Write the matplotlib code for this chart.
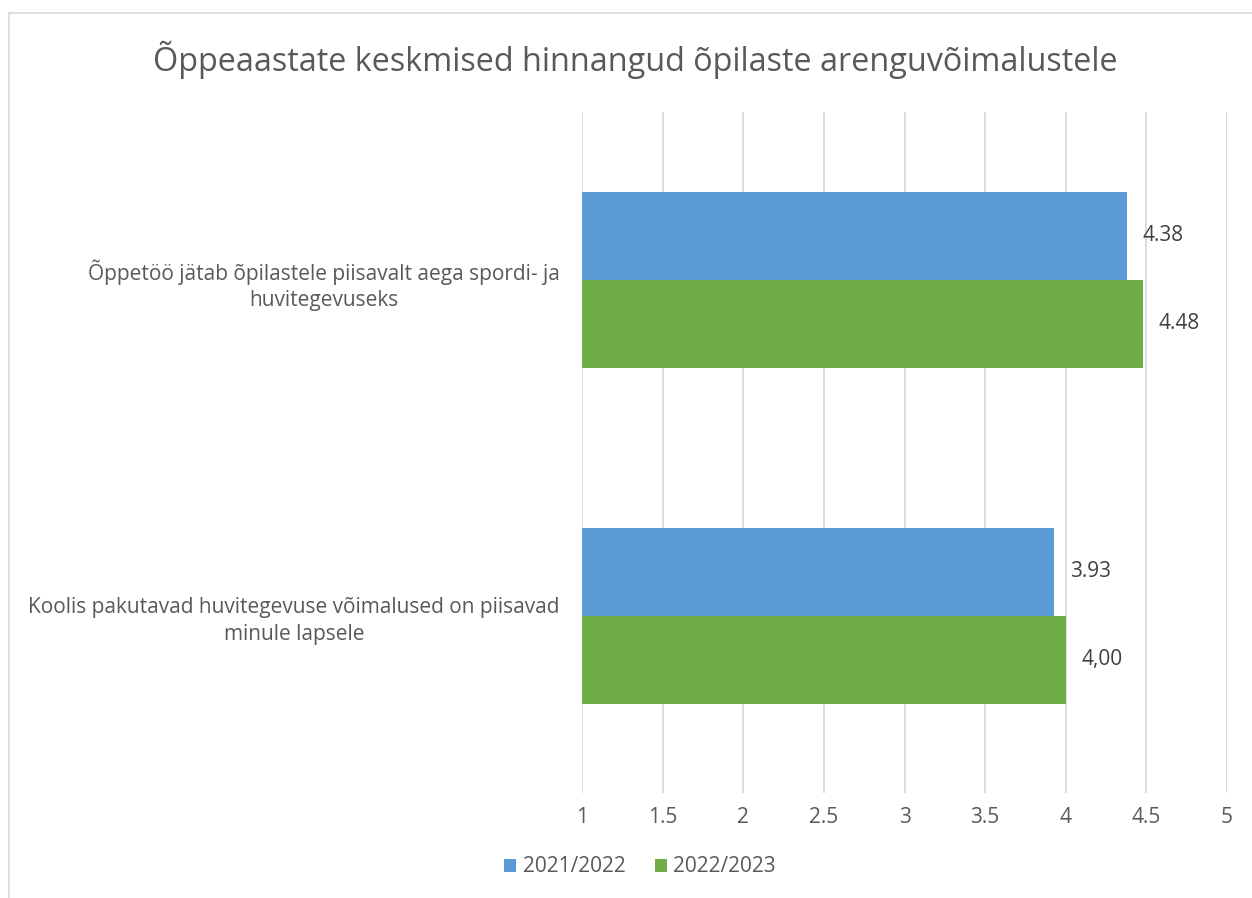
import matplotlib
matplotlib.use("Agg")
import matplotlib.pyplot as plt
from matplotlib.lines import Line2D
from matplotlib.patches import Patch

categories = ["Õppetöö jätab õpilastele piisavalt aega spordi- ja\nhuvitegevuseks",
              "Koolis pakutavad huvitegevuse võimalused on piisavad\nminule lapsele"]
series_names = ["2021/2022", "2022/2023"]
values_2122 = [4.38, 3.93]
values_2223 = [4.48, 4.00]
labels_2122 = ["4.38", "3.93"]
labels_2223 = ["4.48", "4,00"]
xticks = [1, 1.5, 2, 2.5, 3, 3.5, 4, 4.5, 5]
xticklabels = ["1", "1.5", "2", "2.5", "3", "3.5", "4", "4.5", "5"]
title = "Õppeaastate keskmised hinnangud õpilaste arenguvõimalustele"

blue = "#5B9BD5"
green = "#70AD47"
txt = "#595959"
grid = "#D9D9D9"

plt.rcParams['font.family'] = ['Open Sans', 'DejaVu Sans']

W, H = 1252, 898
fig = plt.figure(figsize=(W / 100, H / 100), dpi=100)
ax = fig.add_axes([582 / W, 1 - 793 / H, (1227 - 582) / W, (793 - 112) / H])

fs = 15
bh = 0.262
ypos = list(range(len(categories)))
y1 = [y - bh / 2 for y in ypos]
y2 = [y + bh / 2 for y in ypos]
base = 1
ax.barh(y1, [v - base for v in values_2122], left=base, height=bh, color=blue, zorder=3)
ax.barh(y2, [v - base for v in values_2223], left=base, height=bh, color=green, zorder=3)

for y, v, l in zip(y1, values_2122, labels_2122):
    ax.annotate(l, (v, y), xytext=(11, 0), textcoords="offset points", va="center",
                ha="left", fontsize=fs, color="#404040")
for y, v, l in zip(y2, values_2223, labels_2223):
    ax.annotate(l, (v, y), xytext=(11, 0), textcoords="offset points", va="center",
                ha="left", fontsize=fs, color="#404040")

ax.set_xlim(1, 5)
ax.set_ylim(1.527, -0.5)
ax.set_xticks(xticks)
ax.set_xticklabels(xticklabels)
ax.set_yticks(ypos)
ax.set_yticklabels(categories)
for t in ax.get_yticklabels():
    t.set_multialignment("center")
    t.set_linespacing(1.35)
ax.tick_params(axis="x", length=0, pad=10, labelsize=fs, labelcolor=txt)
ax.tick_params(axis="y", length=0, pad=16, labelsize=fs, labelcolor=txt)
ax.grid(axis="x", color=grid, linewidth=1.3, zorder=0)
for s in ax.spines.values():
    s.set_visible(False)

fig.text(635 / W, 1 - 60 / H, title, ha="center", va="center", fontsize=23.3, color=txt)

handles = [Patch(facecolor=blue, label=series_names[0]),
           Patch(facecolor=green, label=series_names[1])]
leg = fig.legend(handles=handles, loc="center", bbox_to_anchor=(640 / W, 1 - 867 / H), ncol=2,
                 frameon=False, fontsize=fs, handlelength=0.6, handleheight=0.6,
                 handletextpad=0.3, columnspacing=1.4, labelcolor=txt)

# outer chart border (top and left visible)
fig.add_artist(Line2D([8.5 / W, 8.5 / W], [0, 1 - 13 / H], color="#D9D9D9", linewidth=1.2,
                      transform=fig.transFigure))
fig.add_artist(Line2D([8.5 / W, 1], [1 - 13 / H, 1 - 13 / H], color="#D9D9D9", linewidth=1.2,
                      transform=fig.transFigure))

fig.savefig("out.png", dpi=100, facecolor="white")
